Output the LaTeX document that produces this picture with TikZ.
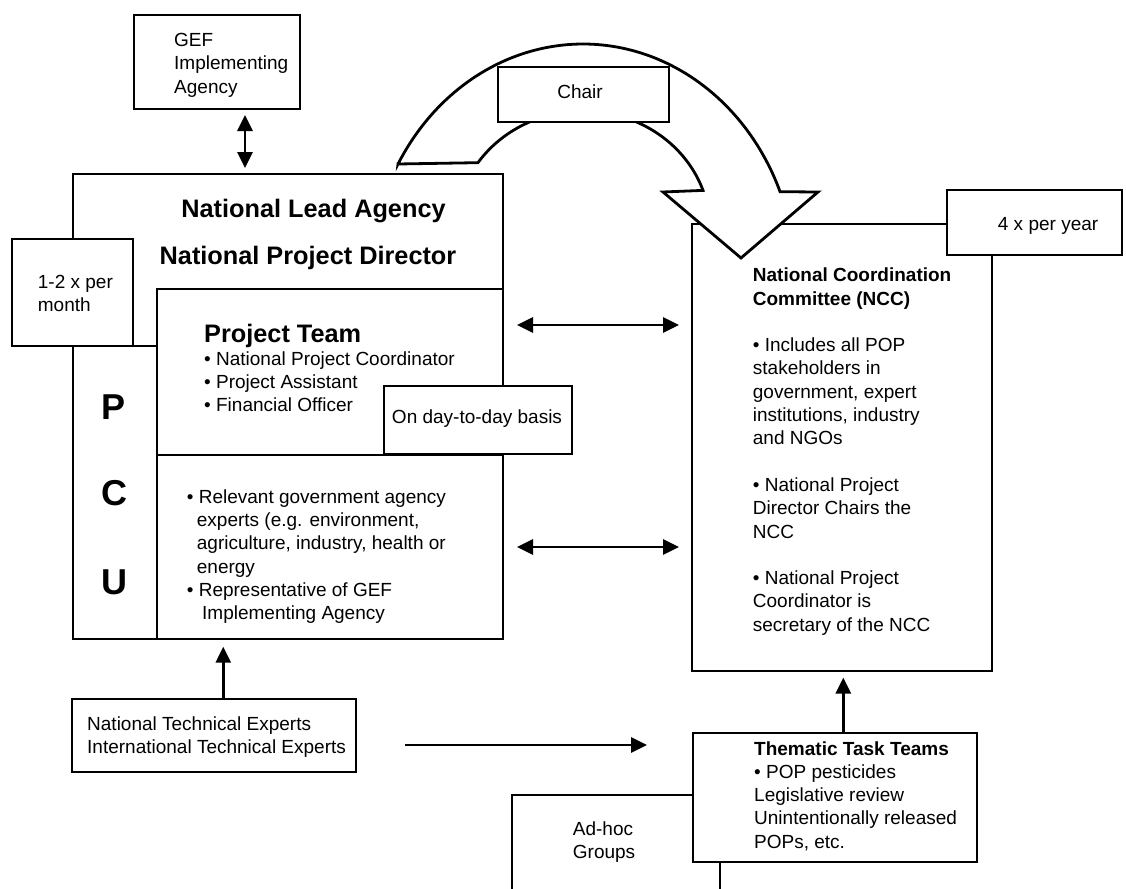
\documentclass[tikz,border=0pt]{standalone}
\usepackage{fontspec}
\setmainfont{Liberation Sans}
\usetikzlibrary{arrows.meta,fit}
\begin{document}
\begin{tikzpicture}[x=1pt,y=-1pt,
  frame/.style={rectangle, draw=black, line width=2.8pt, fill=white, inner sep=0pt, outer sep=0pt},
  link/.style={line width=2.8pt, -{Triangle[length=16pt,width=15pt]}},
  both/.style={line width=2.8pt, {Triangle[length=16pt,width=15pt]}-{Triangle[length=16pt,width=15pt]}},
  body/.style={font=\fontsize{19}{23.3}\selectfont, inner sep=0pt, align=left},
  title/.style={font=\fontsize{25.3}{30}\selectfont\bfseries, inner sep=0pt},
  letter/.style={font=\fontsize{36}{40}\selectfont\bfseries, inner sep=0pt},
]
\useasboundingbox (0,0) rectangle (1126,888);
\clip (0,0) rectangle (1126,888);

% Multi-line text nodes are placed by the baseline of their last line.

% --- National Lead Agency / PCU block ---
\node[frame, fit={(73,174) (503,639)}] (nla) {};
\node[frame, fit={(73,346) (157,639)}] (pcu) {};
\node[frame, fit={(157,289) (503,455)}] (team) {};
\node[frame, fit={(157,455) (503,639)}] (lower) {};
\node[frame, fit={(12,239) (133,346)}] (freq) {};
\node[frame, fit={(384,386) (572,454)}] (daily) {};

\node[title, anchor=base] (nlaT) at (313.5,217) {National Lead Agency};
\node[title, anchor=base] (npdT) at (308,264) {National Project Director};
\node[title, anchor=base west] (teamT) at (204,342) {Project Team};
\node[body, anchor=base west] (teamL) at (204,411.6)
  {• National Project Coordinator\\• Project Assistant\\• Financial Officer};
\node[body, anchor=base west] (lowerL) at (186.7,619.8)
  {• Relevant government agency\\
   \hspace*{10pt}experts (e.g. environment,\\
   \hspace*{10pt}agriculture, industry, health or\\
   \hspace*{10pt}energy\\
   • Representative of GEF\\
   \hspace*{15.3pt}Implementing Agency};
\node[letter, anchor=base] (pP) at (114,419) {P};
\node[letter, anchor=base] (pC) at (114,505) {C};
\node[letter, anchor=base] (pU) at (114,594) {U};
\node[body, anchor=base west] (freqT) at (37.7,311.3) {1-2 x per\\month};
\node[body, anchor=base] (dailyT) at (477,423.3) {On day-to-day basis};

% --- National Coordination Committee ---
\node[frame, fit={(692,224) (992,671)}] (ncc) {};
\node[body, anchor=base west] (nccT) at (752.7,631.2)
  {{\bfseries National Coordination}\\
   {\bfseries Committee (NCC)}\\[23.3pt]
   • Includes all POP\\
   stakeholders in\\
   government, expert\\
   institutions, industry\\
   and NGOs\\[23.3pt]
   • National Project\\
   Director Chairs the\\
   NCC\\[23.3pt]
   • National Project\\
   Coordinator is\\
   secretary of the NCC};

% --- curved "Chair" arrow from the lead agency to the NCC ---
\filldraw[line width=2.8pt, fill=white, line join=miter]
  (398,164)
  -- plot[domain=150.3:22.3, samples=90] ({583+213*cos(\x)},{282-238*sin(\x)})
  -- (818,192) -- (741,258) -- (663,192)
  -- plot[domain=19.1:145.8, samples=90] ({583+127*cos(\x)},{229-118*sin(\x)})
  -- cycle;
\node[frame, fit={(498,67) (669,122)}] (chair) {};
\node[body, anchor=base] (chairT) at (580,98.3) {Chair};

\node[frame, fit={(947,190) (1122,255)}] (quarterly) {};
\node[body, anchor=base west] (quarterlyT) at (997.7,230.7) {4 x per year};

% --- task teams and groups ---
\node[frame, fit={(512,795) (720,905)}] (adhoc) {};
\node[body, anchor=base west] (adhocT) at (572.7,858.3) {Ad-hoc\\Groups};
\node[frame, fit={(693,733) (977,862)}] (ttt) {};
\node[body, anchor=base west] (tttT) at (754,848.2)
  {{\bfseries Thematic Task Teams}\\• POP pesticides\\Legislative review\\Unintentionally released\\POPs, etc.};

% --- experts and implementing agency ---
\node[frame, fit={(72,699) (356,772)}] (experts) {};
\node[body, anchor=base west] (expertsT) at (87,753.3)
  {National Technical Experts\\International Technical Experts};
\node[frame, fit={(134,15) (300,109)}] (gef) {};
\node[body, anchor=base west] (gefT) at (174,93.3) {GEF\\Implementing\\Agency};

% --- connectors ---
\draw[both, shorten <=6pt, shorten >=6pt]
  ([xshift=28pt]gef.south) -- ([xshift=28pt]gef.south |- nla.north);
\draw[both, shorten <=14pt, shorten >=13pt]
  ([yshift=47pt]team.east) -- ([yshift=47pt]team.east -| ncc.west);
\draw[both, shorten <=14pt, shorten >=13pt]
  (lower.east) -- (lower.east -| ncc.west);
\draw[link, shorten >=7.7pt]
  ([xshift=9.3pt]experts.north) -- ([xshift=9.3pt]experts.north |- lower.south);
\draw[link, shorten <=49pt, shorten >=46pt]
  ([yshift=-9.5pt]experts.east) -- ([yshift=-9.5pt]experts.east -| ttt.west);
\draw[link, shorten >=6.5pt]
  ([xshift=8.3pt]ttt.north) -- ([xshift=8.3pt]ttt.north |- ncc.south);
\end{tikzpicture}
\end{document}
